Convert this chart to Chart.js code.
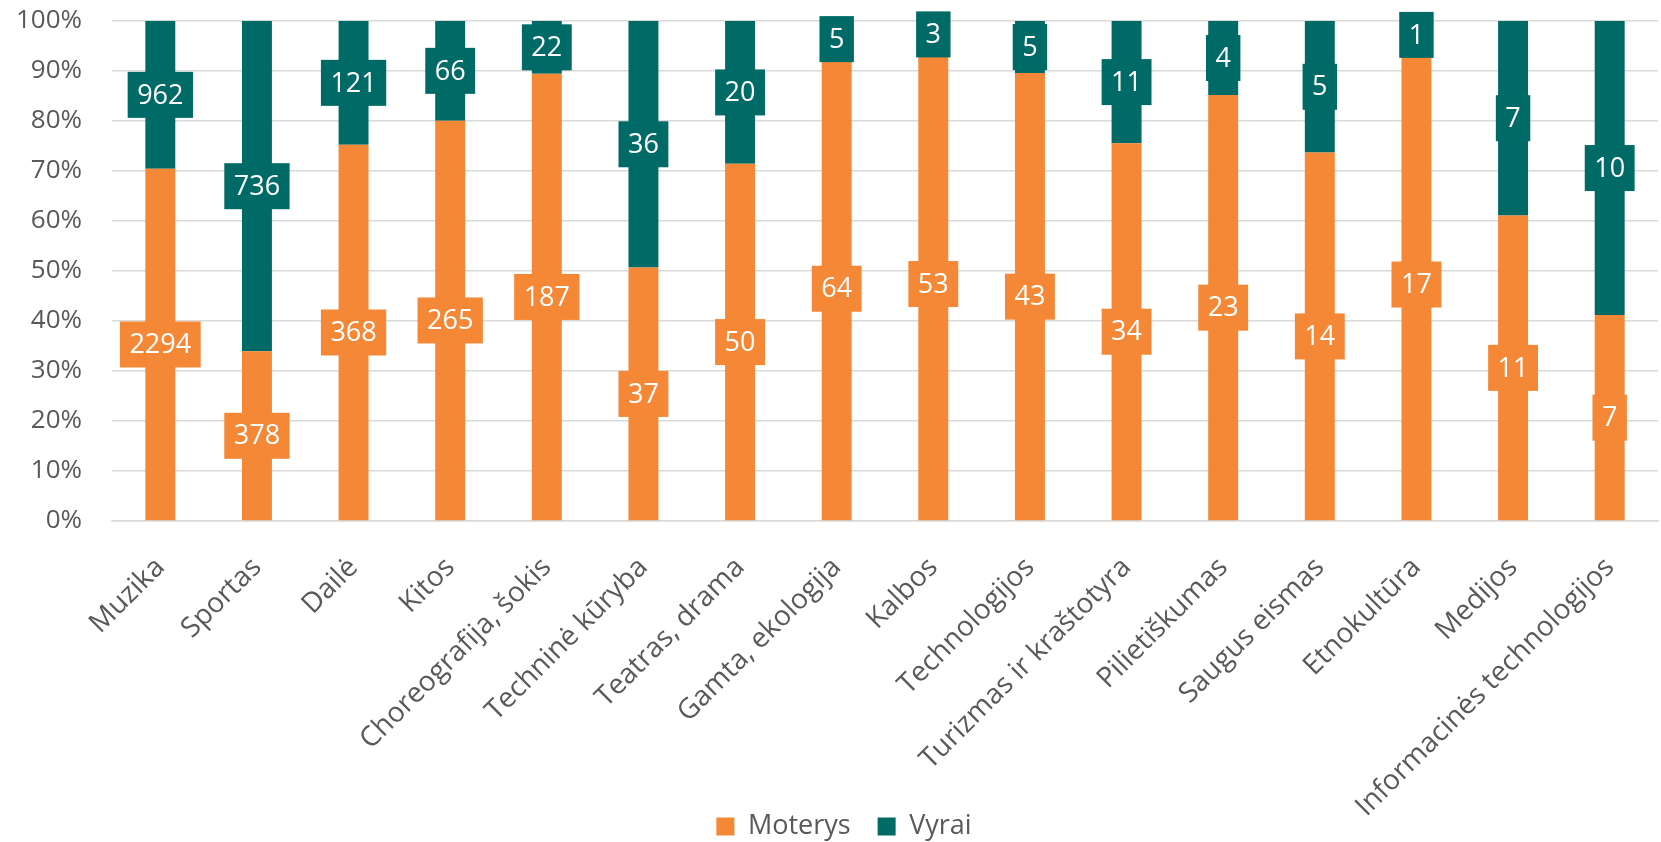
<!DOCTYPE html>
<html>
<head>
<meta charset="utf-8">
<script src="https://cdn.jsdelivr.net/npm/chart.js@4"></script>
<style>
  html, body { margin: 0; padding: 0; background: #fff; }
  #wrap { width: 1661px; height: 842px; }
</style>
</head>
<body>
<div id="wrap"><canvas id="chart" width="1661" height="842"></canvas></div>
<script>
// categories and counts
const categories = ["Muzika", "Sportas", "Dailė", "Kitos", "Choreografija, šokis", "Techninė kūryba",
  "Teatras, drama", "Gamta, ekologija", "Kalbos", "Technologijos", "Turizmas ir kraštotyra",
  "Pilietiškumas", "Saugus eismas", "Etnokultūra", "Medijos", "Informacinės technologijos"];
const moterys = [2294, 378, 368, 265, 187, 37, 50, 64, 53, 43, 34, 23, 14, 17, 11, 7];
const vyrai = [962, 736, 121, 66, 22, 36, 20, 5, 3, 5, 11, 4, 5, 1, 7, 10];
const yTicks = [0, 10, 20, 30, 40, 50, 60, 70, 80, 90, 100];

const ORANGE = "#F48836";
const TEAL = "#006B66";
const FONT = "'Open Sans', sans-serif";

// 100% stacked shares
const totals = moterys.map((m, i) => m + vyrai[i]);
const moterysPct = moterys.map((m, i) => m / totals[i] * 100);
const vyraiPct = vyrai.map((v, i) => v / totals[i] * 100);

// boxed value labels in the middle of each segment
const boxLabels = {
  id: "boxLabels",
  afterDatasetsDraw(chart) {
    const ctx = chart.ctx;
    ctx.save();
    ctx.font = "27px " + FONT;
    ctx.textAlign = "center";
    ctx.textBaseline = "middle";
    chart.data.datasets.forEach((ds, di) => {
      const meta = chart.getDatasetMeta(di);
      meta.data.forEach((bar, i) => {
        const txt = String(ds.counts[i]);
        const w = ctx.measureText(txt).width + 19;
        const h = 46;
        const cy = (bar.y + bar.base) / 2;
        ctx.fillStyle = ds.backgroundColor;
        ctx.fillRect(bar.x - w / 2, cy - h / 2, w, h);
        ctx.fillStyle = "#fff";
        ctx.fillText(txt, bar.x, cy + 1);
      });
    });
    ctx.restore();
  }
};

// move the legend a bit, it sits partly over the empty space under the axis labels
const legendMove = {
  id: "legendMove",
  afterLayout(chart) {
    const lg = chart.legend;
    const dy = 786 - lg.top;
    lg.top += dy; lg.bottom += dy;
    lg.left += 15; lg.right += 15;
  }
};

const ctx = document.getElementById("chart").getContext("2d");
new Chart(ctx, {
  type: "bar",
  data: {
    labels: categories,
    datasets: [
      { label: "Moterys", data: moterysPct, counts: moterys, backgroundColor: ORANGE },
      { label: "Vyrai", data: vyraiPct, counts: vyrai, backgroundColor: TEAL }
    ]
  },
  options: {
    responsive: false,
    animation: false,
    layout: { padding: { top: 21, right: 3, bottom: -43, left: 0 } },
    datasets: { bar: { categoryPercentage: 1, barPercentage: 0.31 } },
    scales: {
      x: {
        stacked: true,
        grid: { display: false },
        border: { color: "#D9D9D9", width: 1.5 },
        ticks: {
          color: "#595959",
          font: { family: FONT, size: 28 },
          minRotation: 45,
          maxRotation: 45,
          autoSkip: false,
          padding: 22
        },
        afterFit(scale) { scale.height = 300; }
      },
      y: {
        stacked: true,
        min: 0,
        max: 100,
        afterBuildTicks(scale) { scale.ticks = yTicks.map(v => ({ value: v })); },
        grid: { color: "#D9D9D9", lineWidth: 1.5, drawTicks: false },
        border: { display: false },
        ticks: {
          color: "#595959",
          font: { family: FONT, size: 26 },
          padding: 30,
          callback: v => v + "%"
        },
        afterFit(scale) {
          scale.width = 112;
          scale.paddingTop = 0;
          scale.paddingBottom = 0;
        }
      }
    },
    plugins: {
      legend: {
        position: "bottom",
        labels: {
          color: "#595959",
          font: { family: FONT, size: 27 },
          boxWidth: 18,
          boxHeight: 18,
          padding: 27
        }
      },
      tooltip: { enabled: false }
    }
  },
  plugins: [boxLabels, legendMove]
});
</script>
</body>
</html>
